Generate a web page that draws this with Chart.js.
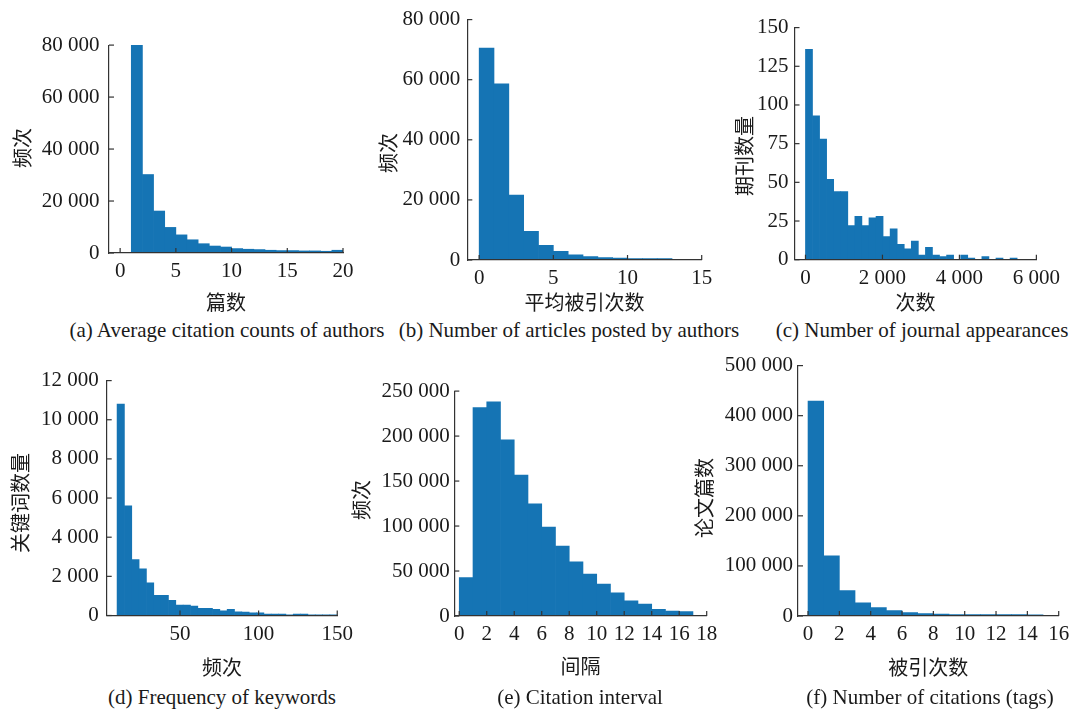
<!DOCTYPE html>
<html><head><meta charset="utf-8">
<script src="https://cdn.jsdelivr.net/npm/chart.js@4.4.1/dist/chart.umd.min.js"></script>
<style>
html,body{margin:0;padding:0;background:#fff;}
#wrap{position:relative;width:1077px;height:709px;overflow:hidden;background:#fff;}
#wrap canvas{position:absolute;}
.cap{position:absolute;font-family:"Liberation Serif","Times New Roman",serif;font-size:21px;color:#1a1a1a;white-space:nowrap;transform:translate(-50%,-50%);line-height:1;}
.ytl{position:absolute;font-family:"Noto Sans CJK SC","Noto Sans",sans-serif;font-size:20px;color:#1a1a1a;white-space:nowrap;transform:translate(-50%,-50%) rotate(-90deg);line-height:1;}
</style></head><body><div id="wrap"></div>
<script>
// ---------- data ----------
const edgesA = [1,2,3,4,5,6,7,8,9,10,11,12,13,14,15,16,17,18,19,20];
const countsA = [80200,30200,16150,9850,6980,5090,3580,2680,2300,1700,1450,1320,1060,930,930,800,800,670,1060];
const ticksAx = [0,5,10,15,20];
const ticksAy = [0,20000,40000,60000,80000];

const edgesB = [0,1,2,3,4,5,6,7,8,9,10,11,12,13,14,15];
const countsB = [70500,58600,21600,9500,4900,2900,1700,1100,800,600,450,450,450,150,100];
const ticksBx = [0,5,10,15];
const ticksBy = [0,20000,40000,60000,80000];

const edgesC = [0,183,367,550,733,917,1100,1283,1467,1650,1833,2017,2200,2383,2567,2750,2933,3117,3300,3483,3667,3850,4033,4217,4400,4583,4767,4950,5133,5317,5500];
const countsC = [136,93,78,52,44,44,22,28,22,27,28,15,20,10,7,12,3,8,3,2,3,0,3,1,0,2,0,1,0,1];
const ticksCx = [0,2000,4000,6000];
const ticksCy = [0,25,50,75,100,125,150];

const edgesD = [10,14.67,19.33,24,28.67,33.33,38,42.67,47.33,52,56.67,61.33,66,70.67,75.33,80,84.67,89.33,94,98.67,103.33,108,112.67,117.33,122,126.67,131.33,136,140.67,145.33,150];
const countsD = [10800,5600,2860,2390,1670,1030,1030,780,530,530,480,360,360,310,240,310,190,170,140,140,75,75,75,40,75,75,40,40,40,40];
const ticksDx = [50,100,150];
const ticksDy = [0,2000,4000,6000,8000,10000,12000];

const edgesE = [0,1,2,3,4,5,6,7,8,9,10,11,12,13,14,15,16,17];
const countsE = [42800,231600,238200,195800,156700,124600,98800,77800,60100,46500,35400,25800,17000,13300,7400,5500,4800];
const ticksEx = [0,2,4,6,8,10,12,14,16,18];
const ticksEy = [0,50000,100000,150000,200000,250000];

const edgesF = [0,1,2,3,4,5,6,7,8,9,10,11,12,13,14,15];
const countsF = [429000,120000,51000,26500,16600,10600,6600,4600,4000,2600,2600,2600,2600,2600,2500];
const ticksFx = [0,2,4,6,8,10,12,14,16];
const ticksFy = [0,100000,200000,300000,400000,500000];

const xTitles = ['篇数','平均被引次数','次数','频次','间隔','被引次数'];
const yTitles = ['频次','频次','期刊数量','关键词数量','频次','论文篇数'];
const captions = ['(a) Average citation counts of authors','(b) Number of articles posted by authors','(c) Number of journal appearances','(d) Frequency of keywords','(e) Citation interval','(f) Number of citations (tags)'];

// ---------- layout (pixel geometry of each panel) ----------
const geo = [
  {L:109,  R:343,   T:39,    B:253,   xmin:-1,    xmax:20,   ymax:80000,  yTitleX:21.7, yTitleY:147.5, xTitleY:301.7, capX:227, capY:330, lp:9.5},
  {L:467.3,R:701.7, T:16,    B:260,   xmin:-0.8,  xmax:15,   ymax:80000,  yTitleX:387.5,yTitleY:152.5, xTitleY:301.7, capX:569, capY:330, lp:7},
  {L:794.5,R:1048.3,T:24.5,  B:259.7, xmin:-285,  xmax:6000, ymax:150,    yTitleX:743.5,yTitleY:156,   xTitleY:301.7, capX:922, capY:330, lp:6},
  {L:106.7,R:340.7, T:375.7, B:615.5, xmin:3.4,   xmax:150,  ymax:12000,  yTitleX:20,   yTitleY:502.5, xTitleY:666.7, capX:222, capY:697, lp:8},
  {L:454.3,R:706.7, T:390,   B:616,   xmin:-0.36, xmax:18,   ymax:250000, yTitleX:361,  yTitleY:500,   xTitleY:665.5, capX:580, capY:697, lp:4.5},
  {L:798,  R:1058.7,T:364.3, B:616,   xmin:-0.64, xmax:16,   ymax:500000, yTitleX:704,  yTitleY:498,   xTitleY:666.5, capX:930, capY:697, lp:5}
];

const panels = [
  [edgesA,countsA,ticksAx,ticksAy],
  [edgesB,countsB,ticksBx,ticksBy],
  [edgesC,countsC,ticksCx,ticksCy],
  [edgesD,countsD,ticksDx,ticksDy],
  [edgesE,countsE,ticksEx,ticksEy],
  [edgesF,countsF,ticksFx,ticksFy]
];

const BAR = '#1574b4';
const AXIS = '#333333';
const TXT = '#1a1a1a';
const TICK_FONT = {family:'"Liberation Serif","Times New Roman",serif', size:21};
const TITLE_FONT = {family:'"Noto Sans CJK SC","Noto Sans",sans-serif', size:20, lineHeight:1.2};
const fmt = v => String(v).replace(/\B(?=(\d{3})+(?!\d))/g, ' ');

const inTicks = {
  id: 'inTicks',
  afterDatasetsDraw(chart) {
    const {ctx, chartArea: a, scales: {x, y}} = chart;
    ctx.save();
    ctx.strokeStyle = AXIS; ctx.lineWidth = 1.2;
    x.ticks.forEach(t => {
      const px = x.getPixelForValue(t.value);
      ctx.beginPath(); ctx.moveTo(px, a.bottom); ctx.lineTo(px, a.bottom - 5); ctx.stroke();
    });
    y.ticks.forEach(t => {
      const py = y.getPixelForValue(t.value);
      ctx.beginPath(); ctx.moveTo(a.left, py); ctx.lineTo(a.left + 5, py); ctx.stroke();
    });
    ctx.restore();
  }
};

const wrap = document.getElementById('wrap');
const lh = TITLE_FONT.size * TITLE_FONT.lineHeight;

panels.forEach(([edges, counts, xt, yt], i) => {
  const g = geo[i];
  const cx = Math.round(g.yTitleX - lh / 2);
  const cy = Math.round(g.T - 16);
  const cw = Math.round(g.R + 18 - cx);
  const ch = Math.round(g.xTitleY + lh / 2 - cy);
  const cv = document.createElement('canvas');
  cv.width = cw; cv.height = ch;
  cv.style.left = cx + 'px'; cv.style.top = cy + 'px';
  cv.style.width = cw + 'px'; cv.style.height = ch + 'px';
  wrap.appendChild(cv);

  const pts = counts.map((v, k) => ({x: (edges[k] + edges[k + 1]) / 2, y: v}));

  new Chart(cv, {
    type: 'bar',
    data: {datasets: [{data: pts, backgroundColor: BAR, borderWidth: 0, barPercentage: 1, categoryPercentage: 1}]},
    options: {
      responsive: false, animation: false, devicePixelRatio: 1,
      layout: {padding: {left: 0, top: g.T - cy, right: (cx + cw) - g.R, bottom: 0}},
      plugins: {legend: {display: false}, tooltip: {enabled: false}},
      scales: {
        x: {
          type: 'linear', min: g.xmin, max: g.xmax, offset: false,
          afterBuildTicks: s => { s.ticks = xt.map(v => ({value: v})); },
          afterFit: s => { s.height = (cy + ch) - g.B; },
          grid: {display: false, drawTicks: false, offset: false},
          border: {display: true, color: AXIS, width: 1.2, z: 1},
          ticks: {font: TICK_FONT, color: TXT, padding: 6, maxRotation: 0, autoSkip: false, callback: fmt},
          title: {display: true, text: xTitles[i], font: TITLE_FONT, color: TXT, padding: 0}
        },
        y: {
          type: 'linear', min: 0, max: g.ymax,
          afterBuildTicks: s => { s.ticks = yt.map(v => ({value: v})); },
          afterFit: s => { s.width = g.L - cx; },
          grid: {display: false, drawTicks: false},
          border: {display: true, color: AXIS, width: 1.2, z: 1},
          ticks: {font: TICK_FONT, color: TXT, padding: g.lp, autoSkip: false, callback: fmt},
          title: {display: false}
        }
      }
    },
    plugins: [inTicks]
  });

  const yt2 = document.createElement('div');
  yt2.className = 'ytl';
  yt2.style.left = g.yTitleX + 'px'; yt2.style.top = g.yTitleY + 'px';
  yt2.textContent = yTitles[i];
  wrap.appendChild(yt2);

  const cap = document.createElement('div');
  cap.className = 'cap';
  cap.style.left = g.capX + 'px'; cap.style.top = g.capY + 'px';
  cap.textContent = captions[i];
  wrap.appendChild(cap);
});
</script>
</body></html>
